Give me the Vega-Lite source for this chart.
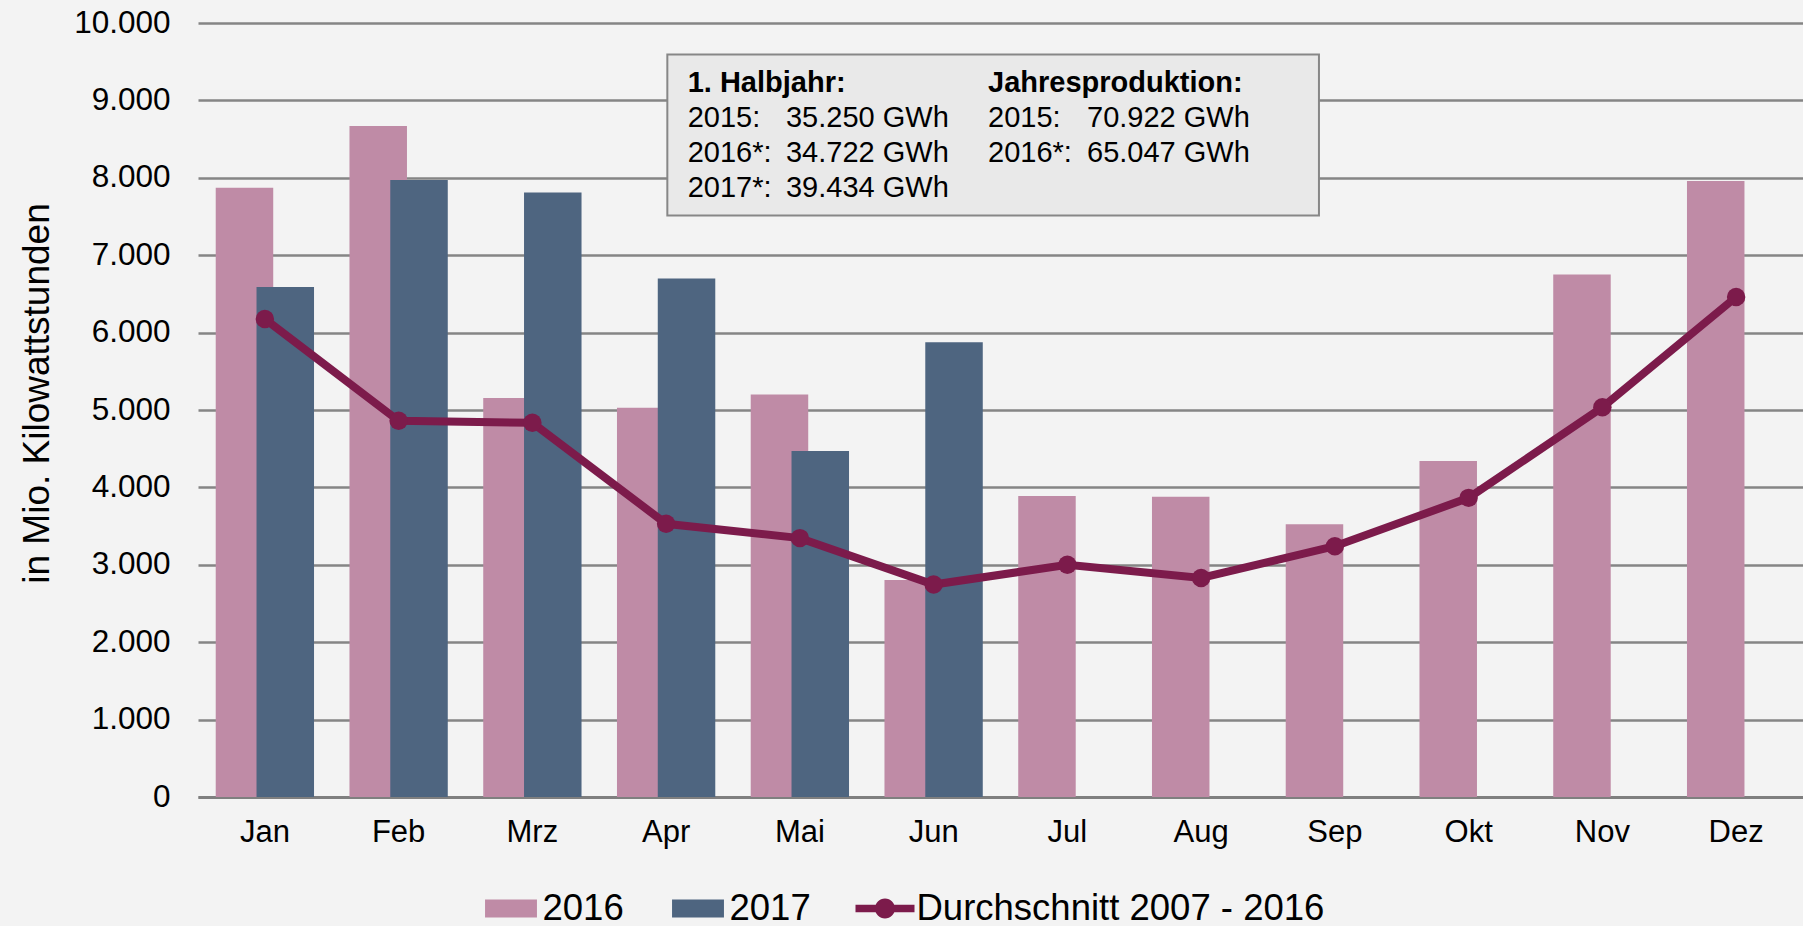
{
  "$schema": "https://vega.github.io/schema/vega-lite/v6.json",
  "width": 1605,
  "height": 774,
  "autosize": {"type": "none"},
  "padding": {"left": 198, "top": 23, "right": 0, "bottom": 129},
  "background": "#F3F3F3",
  "config": {
    "view": {"stroke": null},
    "font": "Liberation Sans",
    "axis": {"labelFont": "Liberation Sans", "titleFont": "Liberation Sans", "labelColor": "#000000", "titleColor": "#000000"},
    "legend": {"labelFont": "Liberation Sans"}
  },
  "datasets": {
    "bars": [
      {"month": "Jan", "series": "2016", "value": 7870},
      {"month": "Feb", "series": "2016", "value": 8670},
      {"month": "Mrz", "series": "2016", "value": 5155},
      {"month": "Apr", "series": "2016", "value": 5030},
      {"month": "Mai", "series": "2016", "value": 5200},
      {"month": "Jun", "series": "2016", "value": 2805},
      {"month": "Jul", "series": "2016", "value": 3890},
      {"month": "Aug", "series": "2016", "value": 3880},
      {"month": "Sep", "series": "2016", "value": 3525},
      {"month": "Okt", "series": "2016", "value": 4340},
      {"month": "Nov", "series": "2016", "value": 6750},
      {"month": "Dez", "series": "2016", "value": 7960},
      {"month": "Jan", "series": "2017", "value": 6590},
      {"month": "Feb", "series": "2017", "value": 7970},
      {"month": "Mrz", "series": "2017", "value": 7810},
      {"month": "Apr", "series": "2017", "value": 6700},
      {"month": "Mai", "series": "2017", "value": 4470},
      {"month": "Jun", "series": "2017", "value": 5875}
    ],
    "avg": [
      {"month": "Jan", "series": "Durchschnitt 2007 - 2016", "value": 6175},
      {"month": "Feb", "series": "Durchschnitt 2007 - 2016", "value": 4860},
      {"month": "Mrz", "series": "Durchschnitt 2007 - 2016", "value": 4835},
      {"month": "Apr", "series": "Durchschnitt 2007 - 2016", "value": 3530},
      {"month": "Mai", "series": "Durchschnitt 2007 - 2016", "value": 3345},
      {"month": "Jun", "series": "Durchschnitt 2007 - 2016", "value": 2745},
      {"month": "Jul", "series": "Durchschnitt 2007 - 2016", "value": 3000},
      {"month": "Aug", "series": "Durchschnitt 2007 - 2016", "value": 2830},
      {"month": "Sep", "series": "Durchschnitt 2007 - 2016", "value": 3240},
      {"month": "Okt", "series": "Durchschnitt 2007 - 2016", "value": 3865},
      {"month": "Nov", "series": "Durchschnitt 2007 - 2016", "value": 5035},
      {"month": "Dez", "series": "Durchschnitt 2007 - 2016", "value": 6460}
    ],
    "box": [
      {"x0": 3.509, "x1": 8.381, "y0": 9594, "y1": 7514}
    ],
    "notes": [
      {"x": 3.661, "y": 9107, "text": "1. Halbjahr:", "bold": true},
      {"x": 5.907, "y": 9107, "text": "Jahresproduktion:", "bold": true},
      {"x": 3.661, "y": 8655, "text": "2015:", "bold": false},
      {"x": 4.396, "y": 8655, "text": "35.250 GWh", "bold": false},
      {"x": 3.661, "y": 8203, "text": "2016*:", "bold": false},
      {"x": 4.396, "y": 8203, "text": "34.722 GWh", "bold": false},
      {"x": 3.661, "y": 7751, "text": "2017*:", "bold": false},
      {"x": 4.396, "y": 7751, "text": "39.434 GWh", "bold": false},
      {"x": 5.907, "y": 8655, "text": "2015:", "bold": false},
      {"x": 6.647, "y": 8655, "text": "70.922 GWh", "bold": false},
      {"x": 5.907, "y": 8203, "text": "2016*:", "bold": false},
      {"x": 6.647, "y": 8203, "text": "65.047 GWh", "bold": false}
    ]
  },
  "layer": [
    {
      "layer": [
        {
          "data": {"name": "bars"},
          "transform": [{"filter": "datum.series === '2016'"}],
          "mark": {"type": "bar", "width": 57.5, "xOffset": -20.4},
          "encoding": {
            "x": {"field": "month", "type": "ordinal", "sort": null,
              "scale": {"domain": ["Jan", "Feb", "Mrz", "Apr", "Mai", "Jun", "Jul", "Aug", "Sep", "Okt", "Nov", "Dez"], "paddingInner": 0, "paddingOuter": 0},
              "axis": {"title": null, "labelAngle": 0, "labelFontSize": 31, "labelPadding": 20, "ticks": false, "domainColor": "#7F7F7F", "domainWidth": 3, "grid": false}},
            "y": {"field": "value", "type": "quantitative",
              "scale": {"domain": [0, 10000], "nice": false},
              "axis": {"title": "in Mio. Kilowattstunden", "titleFontSize": 37, "titleFontWeight": "normal", "titleX": -161, "titleY": 370, "titleAngle": -90, "titleAlign": "center", "titleBaseline": "middle",
                "values": [0, 1000, 2000, 3000, 4000, 5000, 6000, 7000, 8000, 9000, 10000],
                "labelExpr": "replace(format(datum.value, ','), ',', '.')",
                "labelFontSize": 31.5, "labelPadding": 28, "ticks": false, "domain": false,
                "grid": true, "gridColor": "#858585", "gridWidth": 2.5}},
            "color": {"field": "series", "type": "nominal",
              "scale": {"domain": ["2016", "2017", "Durchschnitt 2007 - 2016"], "range": ["#BF8BA6", "#4E6580", "#7C1B4B"]},
              "legend": {"orient": "none", "legendX": 283.5, "legendY": 856, "direction": "horizontal", "title": null,
                "labelFontSize": 36.5, "labelColor": "#000000", "labelOffset": 2, "labelLimit": 0, "columnPadding": 44, "symbolSize": 3481, "padding": 0,
                "encode": {"symbols": {"update": {
                  "shape": {"signal": "datum.value === 'Durchschnitt 2007 - 2016' ? 'M-1,-0.13L1,-0.13L1,0.13L-1,0.13Z M0.34,0A0.34,0.34,0,1,1,-0.34,0A0.34,0.34,0,1,1,0.34,0Z' : 'M-0.88,-0.305H0.88V0.305H-0.88Z'"},
                  "fill": {"scale": "color", "field": "value"},
                  "stroke": {"value": "transparent"},
                  "strokeWidth": {"value": 0},
                  "opacity": {"value": 1}
                }}}}}
          }
        },
        {
          "data": {"name": "bars"},
          "transform": [{"filter": "datum.series === '2017'"}],
          "mark": {"type": "bar", "width": 57.5, "xOffset": 20.4},
          "encoding": {
            "x": {"field": "month", "type": "ordinal", "sort": null},
            "y": {"field": "value", "type": "quantitative"},
            "color": {"field": "series", "type": "nominal"}
          }
        },
        {
          "data": {"name": "avg"},
          "mark": {"type": "line", "strokeWidth": 8, "point": {"filled": true, "size": 340, "opacity": 1}},
          "encoding": {
            "x": {"field": "month", "type": "ordinal", "sort": null},
            "y": {"field": "value", "type": "quantitative"},
            "color": {"field": "series", "type": "nominal"}
          }
        }
      ]
    },
    {
      "layer": [
        {
          "data": {"name": "box"},
          "mark": {"type": "rect", "fill": "#E9E9E9", "stroke": "#878787", "strokeWidth": 2},
          "encoding": {
            "x": {"field": "x0", "type": "quantitative", "scale": {"domain": [0, 12], "nice": false, "zero": false}, "axis": null},
            "x2": {"field": "x1"},
            "y": {"field": "y0", "type": "quantitative", "scale": {"domain": [0, 10000], "nice": false}, "axis": null},
            "y2": {"field": "y1"}
          }
        },
        {
          "data": {"name": "notes"},
          "transform": [{"filter": "datum.bold"}],
          "mark": {"type": "text", "align": "left", "baseline": "alphabetic", "fontSize": 29, "fontWeight": "bold", "color": "#000000"},
          "encoding": {
            "x": {"field": "x", "type": "quantitative", "axis": null},
            "y": {"field": "y", "type": "quantitative", "axis": null},
            "text": {"field": "text"}
          }
        },
        {
          "data": {"name": "notes"},
          "transform": [{"filter": "!datum.bold"}],
          "mark": {"type": "text", "align": "left", "baseline": "alphabetic", "fontSize": 29, "fontWeight": "normal", "color": "#000000"},
          "encoding": {
            "x": {"field": "x", "type": "quantitative", "axis": null},
            "y": {"field": "y", "type": "quantitative", "axis": null},
            "text": {"field": "text"}
          }
        }
      ]
    }
  ],
  "resolve": {"scale": {"x": "independent", "y": "independent"}}
}
